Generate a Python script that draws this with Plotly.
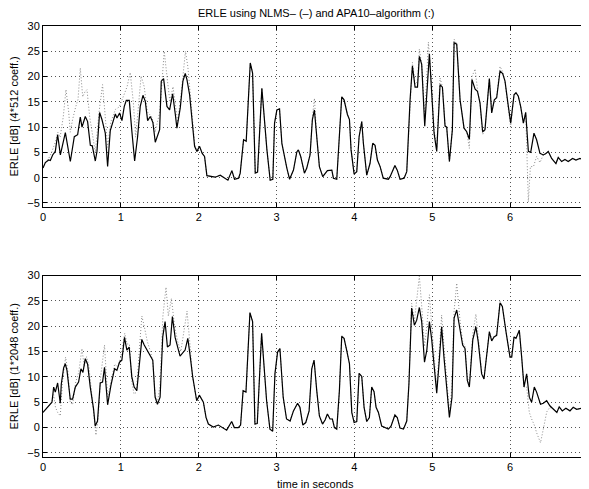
import plotly.graph_objects as go

# ---------------- data ----------------
# upper panel, NLMS (solid)
t_up_nlms = [0.000,0.030,0.073,0.094,0.124,0.158,0.188,0.223,0.287,0.351,0.402,0.445,0.479,0.501,0.543,0.573,0.608,0.633,0.672,0.693,
             0.727,0.757,0.800,0.830,0.864,0.929,0.950,0.984,1.014,1.044,1.070,1.108,1.142,1.177,1.215,1.249,1.284,1.314,1.344,1.378,
             1.412,1.442,1.498,1.519,1.549,1.592,1.626,1.665,1.699,1.720,1.763,1.797,1.827,1.849,1.883,1.913,1.947,1.977,2.011,2.045,
             2.075,2.105,2.157,2.212,2.276,2.311,2.375,2.426,2.460,2.512,2.533,2.576,2.610,2.662,2.692,2.726,2.756,2.811,2.876,2.918,
             2.952,2.974,3.004,3.038,3.068,3.132,3.167,3.217,3.260,3.280,3.310,3.358,3.388,3.430,3.460,3.486,3.516,3.550,3.593,3.623,
             3.653,3.710,3.730,3.773,3.807,3.837,3.867,3.910,3.936,3.957,3.996,4.030,4.060,4.094,4.115,4.158,4.200,4.235,4.265,4.295,
             4.330,4.370,4.436,4.458,4.520,4.550,4.586,4.638,4.672,4.715,4.745,4.779,4.810,4.834,4.864,4.903,4.963,4.993,5.023,5.057,
             5.100,5.130,5.164,5.185,5.220,5.258,5.280,5.314,5.357,5.408,5.442,5.476,5.510,5.550,5.580,5.613,5.647,5.677,5.733,5.763,
             5.797,5.827,5.870,5.904,5.934,5.977,6.007,6.050,6.075,6.105,6.135,6.170,6.200,6.234,6.264,6.306,6.340,6.383,6.426,6.460,
             6.490,6.533,6.588,6.618,6.661,6.704,6.746,6.802,6.845,6.897,6.918]
v_up_nlms = [1.9,3.0,3.5,3.4,4.5,5.2,8.5,4.5,8.9,3.2,8.1,8.5,12.0,10.0,12.1,11.1,6.4,6.3,3.3,5.2,
             12.9,11.5,8.8,2.2,9.3,12.6,11.8,12.8,11.3,14.1,15.3,15.3,9.1,3.3,8.1,14.1,16.3,15.1,11.3,12.1,
             10.9,7.0,9.5,19.1,19.6,14.1,13.4,16.6,12.6,9.8,13.8,19.1,20.6,19.4,16.4,12.1,6.2,5.2,6.2,4.8,
             4.2,0.4,0.3,0.1,0.5,0.2,-0.5,1.4,-0.3,-0.1,0.9,7.5,7.2,22.7,20.7,0.9,1.1,17.7,5.5,-0.5,
             -0.3,10.8,13.4,13.6,6.8,1.9,-0.3,1.5,5.1,5.5,4.2,0.9,1.9,4.5,11.5,13.4,8.1,2.2,0.2,0.9,
             1.4,1.5,-0.1,-0.3,7.5,16.0,15.4,12.5,11.5,5.5,0.7,1.2,8.1,11.1,6.8,0.5,2.8,6.8,6.4,3.5,
             2.2,-0.1,-0.3,0.2,2.4,1.5,-0.3,-0.1,1.2,15.5,22.1,17.9,17.9,24.0,22.4,10.2,24.5,17.4,8.8,5.2,
             18.4,17.9,10.2,10.0,3.2,9.5,26.7,26.4,15.4,9.8,9.1,7.6,19.4,17.5,17.1,14.8,9.1,9.5,19.6,12.8,
             15.4,15.8,21.1,20.6,19.1,14.1,10.8,16.4,16.8,16.1,14.1,10.8,12.9,5.2,5.0,8.8,7.5,4.8,4.5,4.8,
             5.2,3.8,2.8,4.0,3.2,3.6,3.2,3.8,3.5,3.8,3.7]

# upper panel, APA10 (dotted)
t_up_apa = [0.000,0.030,0.073,0.110,0.158,0.190,0.220,0.260,0.295,0.330,0.350,0.380,0.420,0.450,0.479,0.510,0.540,0.565,0.600,0.640,
            0.672,0.720,0.765,0.800,0.830,0.870,0.930,0.980,1.030,1.080,1.120,1.160,1.190,1.230,1.260,1.300,1.340,1.400,1.440,1.500,
            1.530,1.557,1.600,1.630,1.670,1.700,1.730,1.770,1.800,1.830,1.860,1.890,1.920,1.950,1.980,2.011,2.045,2.075,2.105,2.157,
            2.212,2.276,2.311,2.375,2.426,2.460,2.512,2.533,2.576,2.610,2.662,2.692,2.726,2.756,2.811,2.876,2.918,2.952,2.974,3.004,
            3.038,3.068,3.132,3.167,3.217,3.260,3.280,3.310,3.358,3.388,3.430,3.460,3.486,3.516,3.550,3.593,3.623,3.653,3.710,3.730,
            3.773,3.807,3.837,3.867,3.910,3.936,3.957,3.996,4.030,4.060,4.094,4.115,4.158,4.200,4.235,4.265,4.295,4.330,4.370,4.436,
            4.458,4.520,4.550,4.586,4.638,4.672,4.715,4.745,4.779,4.810,4.834,4.864,4.903,4.950,4.993,5.023,5.057,5.100,5.130,5.164,
            5.185,5.220,5.258,5.280,5.314,5.357,5.408,5.442,5.476,5.510,5.550,5.580,5.613,5.647,5.677,5.733,5.763,5.797,5.827,5.870,
            5.904,5.934,5.977,6.007,6.050,6.075,6.105,6.135,6.170,6.200,6.234,6.260,6.300,6.340,6.383,6.426,6.460,6.490,6.533,6.588,
            6.618,6.661,6.704,6.746,6.802,6.845,6.897,6.918]
v_up_apa = [1.9,3.0,3.8,5.0,7.0,9.0,8.0,12.0,17.4,13.0,9.0,11.5,14.0,15.5,21.7,16.0,17.0,17.4,12.0,8.0,
            5.0,13.0,18.4,12.0,6.0,11.0,13.5,14.0,16.0,18.0,20.8,15.0,8.0,15.0,20.1,18.0,13.0,12.0,9.0,13.0,
            20.0,25.0,19.0,15.0,18.0,14.0,11.0,16.0,21.0,25.0,22.0,17.0,12.0,6.5,5.2,6.2,4.8,4.2,0.4,0.3,
            0.1,0.5,0.2,-0.5,1.4,-0.3,-0.1,0.9,7.5,7.2,22.7,20.7,0.9,1.1,17.7,5.5,-0.5,-0.3,10.8,13.4,
            13.6,6.8,1.9,-0.3,1.5,5.1,5.5,4.2,0.9,1.9,4.5,12.0,15.7,8.1,2.2,0.2,0.9,1.4,1.5,-0.1,
            -0.3,7.5,16.0,15.4,12.5,11.5,5.5,0.7,1.2,8.1,11.1,6.8,0.5,2.8,6.8,6.4,3.5,2.2,-0.1,-0.3,
            0.2,2.4,1.5,-0.3,-0.1,1.2,15.5,22.8,18.5,19.0,25.4,22.4,12.0,26.8,18.0,9.5,5.8,19.7,18.0,10.5,
            10.0,3.2,9.5,27.4,26.4,15.4,9.8,9.1,5.8,20.0,21.5,17.5,14.5,8.5,9.5,19.6,13.0,15.4,16.0,22.0,
            21.0,19.1,13.5,10.0,16.4,16.8,16.1,14.1,10.8,12.9,-4.8,2.2,2.2,4.2,3.0,4.5,4.8,5.2,3.8,2.8,
            4.0,3.2,3.6,3.2,3.8,3.5,3.8,3.7]

# lower panel, NLMS (solid)
t_lo_nlms = [0.000,0.094,0.115,0.137,0.158,0.188,0.222,0.235,0.265,0.286,0.308,0.350,0.380,0.415,0.457,0.487,0.513,0.543,0.573,0.607,
             0.650,0.671,0.700,0.735,0.765,0.790,0.830,0.872,0.919,0.949,0.983,1.013,1.047,1.077,1.107,1.141,1.171,1.205,1.239,1.269,
             1.300,1.333,1.376,1.410,1.440,1.470,1.504,1.538,1.568,1.598,1.632,1.662,1.697,1.760,1.825,1.860,1.889,1.923,1.974,2.008,
             2.060,2.094,2.124,2.188,2.252,2.308,2.359,2.423,2.457,2.508,2.538,2.570,2.607,2.658,2.692,2.722,2.752,2.808,2.872,2.915,
             2.950,2.979,3.013,3.043,3.085,3.128,3.174,3.217,3.270,3.300,3.337,3.375,3.418,3.452,3.482,3.516,3.550,3.590,3.623,3.653,
             3.687,3.717,3.743,3.773,3.807,3.837,3.867,3.900,3.936,3.966,3.996,4.030,4.060,4.094,4.124,4.158,4.192,4.222,4.252,4.278,
             4.308,4.350,4.436,4.470,4.520,4.550,4.586,4.630,4.672,4.700,4.735,4.770,4.800,4.834,4.864,4.900,4.930,4.963,4.993,5.023,
             5.057,5.090,5.120,5.150,5.185,5.220,5.253,5.280,5.314,5.357,5.390,5.420,5.450,5.476,5.520,5.560,5.590,5.634,5.664,5.733,
             5.763,5.793,5.827,5.870,5.900,5.947,5.998,6.020,6.050,6.075,6.118,6.148,6.178,6.212,6.246,6.276,6.310,6.340,6.390,6.426,
             6.469,6.510,6.560,6.600,6.630,6.670,6.716,6.768,6.810,6.854,6.918]
v_lo_nlms = [3.0,4.6,5.0,8.0,7.0,8.8,4.8,8.6,11.8,12.6,11.3,5.6,5.6,8.0,9.0,11.6,10.9,13.6,12.5,8.0,
             3.6,0.3,1.3,8.8,9.0,11.9,4.5,8.3,11.6,11.3,12.9,13.3,17.8,15.3,15.9,10.0,8.0,7.3,12.3,17.4,
             16.3,15.4,14.1,13.3,6.0,4.6,6.0,17.9,20.9,15.9,16.3,21.9,17.8,14.1,15.3,17.6,14.3,10.0,5.3,6.4,
             5.0,2.0,0.7,0.1,0.5,0.0,-0.5,1.2,0.0,0.0,0.5,7.3,7.0,22.7,20.9,0.7,0.8,18.6,5.3,-0.3,
             -0.7,10.6,14.9,15.6,6.0,1.7,1.3,3.3,4.8,4.0,0.5,1.0,3.3,11.6,13.3,7.3,2.3,0.7,1.5,2.7,
             1.7,1.7,0.0,-0.3,7.3,18.0,17.6,15.3,12.6,3.0,1.0,1.2,10.7,10.1,4.0,1.2,2.0,8.0,7.1,4.0,
             3.0,0.3,-0.3,0.3,2.5,2.0,-0.1,-0.3,1.3,8.6,23.6,20.2,21.2,23.7,20.9,12.9,15.3,20.9,17.3,12.3,
             6.8,13.3,19.9,13.9,7.3,2.0,6.0,21.6,23.2,19.2,16.3,15.6,9.3,8.0,17.3,19.9,16.9,10.6,9.6,18.9,
             17.1,17.9,18.2,24.6,23.9,18.9,13.9,13.9,17.9,17.6,19.2,13.9,8.0,10.6,6.0,5.0,8.0,7.0,4.6,4.8,
             5.3,4.3,3.6,3.0,4.1,3.3,3.8,3.3,4.0,3.6,3.8]

# lower panel, APA10 (dotted)
t_lo_apa = [0.000,0.094,0.115,0.137,0.160,0.188,0.222,0.250,0.290,0.320,0.350,0.380,0.420,0.460,0.500,0.530,0.560,0.590,0.620,0.650,
            0.680,0.710,0.740,0.790,0.830,0.872,0.920,0.960,1.000,1.050,1.080,1.110,1.140,1.170,1.200,1.240,1.270,1.300,1.340,1.380,
            1.410,1.440,1.470,1.500,1.540,1.580,1.610,1.650,1.690,1.730,1.770,1.820,1.850,1.890,1.920,1.974,2.008,2.060,2.094,2.124,
            2.188,2.252,2.308,2.359,2.423,2.457,2.508,2.538,2.570,2.607,2.658,2.692,2.722,2.752,2.808,2.872,2.915,2.950,2.979,3.013,
            3.043,3.085,3.128,3.174,3.217,3.270,3.300,3.337,3.375,3.418,3.452,3.482,3.516,3.550,3.590,3.623,3.653,3.687,3.717,3.743,
            3.773,3.807,3.837,3.867,3.900,3.936,3.966,3.996,4.030,4.060,4.094,4.124,4.158,4.192,4.222,4.252,4.278,4.308,4.350,4.436,
            4.470,4.520,4.550,4.586,4.630,4.672,4.700,4.735,4.770,4.800,4.834,4.864,4.900,4.930,4.963,4.993,5.023,5.057,5.090,5.120,
            5.150,5.185,5.220,5.253,5.280,5.314,5.357,5.390,5.420,5.450,5.476,5.520,5.560,5.590,5.634,5.664,5.733,5.763,5.793,5.827,
            5.870,5.900,5.947,5.998,6.020,6.050,6.075,6.118,6.148,6.178,6.212,6.246,6.276,6.310,6.340,6.390,6.430,6.470,6.510,6.560,
            6.600,6.630,6.670,6.716,6.768,6.810,6.854,6.918]
v_lo_apa = [3.0,4.6,5.0,6.5,4.0,3.0,2.3,9.0,13.9,11.0,5.0,4.5,9.0,11.0,15.6,12.0,14.0,12.0,7.0,2.0,
            -1.5,2.0,10.0,16.3,6.0,9.0,12.5,12.0,14.0,18.6,16.5,16.5,9.0,6.6,7.0,16.0,22.0,20.0,17.0,15.0,
            13.0,6.5,5.0,8.0,22.0,27.7,22.0,25.5,20.0,17.0,15.0,20.0,23.0,16.0,10.0,5.3,6.4,5.0,2.0,0.7,
            0.1,0.5,0.0,-0.5,1.2,0.0,0.0,0.5,7.3,7.0,22.7,20.9,0.7,0.8,18.6,5.3,-0.3,-0.7,10.6,14.9,
            15.6,6.0,1.7,1.3,3.3,4.8,4.0,0.5,1.0,3.3,11.6,13.3,7.3,2.3,0.7,1.5,2.7,1.7,1.7,0.0,
            -0.3,7.3,18.3,17.6,15.3,12.6,3.0,1.0,1.2,10.7,10.1,4.0,1.2,2.0,8.0,7.1,4.0,3.0,0.3,-0.3,
            0.3,2.5,2.0,-0.1,-0.3,1.3,9.0,24.5,21.0,25.0,29.9,24.0,16.0,20.0,26.2,20.0,14.0,8.0,15.0,22.2,
            16.0,9.0,3.0,8.0,23.0,28.5,21.0,17.0,16.0,10.0,8.5,18.5,22.4,18.0,11.0,9.6,19.0,17.5,18.0,18.5,
            24.9,24.0,18.9,13.9,13.9,17.9,17.6,19.2,13.9,8.0,8.0,3.0,1.7,0.5,-1.0,-3.0,0.0,3.1,4.0,3.6,
            3.0,4.1,3.3,3.8,3.3,4.0,3.6,3.8]

x_ticks = [0, 1, 2, 3, 4, 5, 6, 7]
y_ticks = [-5, 0, 5, 10, 15, 20, 25, 30]

title_text = "ERLE using NLMS\u2013 (\u2013) and APA10\u2013algorithm (:)"
ylabel_up = "ERLE [dB] (4*512 coeff.)"
ylabel_lo = "ERLE [dB] (1*2048 coeff.)"
xlabel = "time in seconds"

# ---------------- figure ----------------
# The page body keeps the browser's 8px default margin, so the figure is
# 8px smaller than the window and its margins are shifted accordingly.
FONT = "Liberation Sans, Arial, Helvetica, sans-serif"
dotted = dict(color="#8a8a8a", width=1, dash="1px,2px")
solid = dict(color="black", width=1.2)

fig = go.Figure()
fig.add_trace(go.Scatter(x=t_up_apa, y=v_up_apa, mode="lines", line=dotted, xaxis="x", yaxis="y"))
fig.add_trace(go.Scatter(x=t_up_nlms, y=v_up_nlms, mode="lines", line=solid, xaxis="x", yaxis="y"))
fig.add_trace(go.Scatter(x=t_lo_apa, y=v_lo_apa, mode="lines", line=dotted, xaxis="x2", yaxis="y2"))
fig.add_trace(go.Scatter(x=t_lo_nlms, y=v_lo_nlms, mode="lines", line=solid, xaxis="x2", yaxis="y2"))

axis_common = dict(
    showline=True, linecolor="black", linewidth=1, mirror="allticks",
    ticks="inside", ticklen=4, tickcolor="black", tickwidth=1,
    showgrid=True, gridcolor="#555", griddash="1px,3px", gridwidth=1,
    zeroline=False, automargin=False, ticklabeloverflow="allow",
    tickfont=dict(family=FONT, size=11, color="black"),
)

fig.update_layout(
    width=581, height=481,
    margin=dict(l=35, r=1, t=18, b=32, autoexpand=False),
    paper_bgcolor="white", plot_bgcolor="white",
    showlegend=False,
    font=dict(family=FONT, size=11, color="black"),
    xaxis=dict(axis_common, domain=[0, 1], range=[0, 7], tickvals=x_ticks, anchor="y"),
    yaxis=dict(axis_common, domain=[0.58, 1], range=[-5.8, 30], tickvals=y_ticks, anchor="x"),
    xaxis2=dict(axis_common, domain=[0, 1], range=[0, 7], tickvals=x_ticks, anchor="y2"),
    yaxis2=dict(axis_common, domain=[0, 0.421], range=[-5.8, 30], tickvals=y_ticks, anchor="x2"),
    annotations=[
        dict(text=title_text, xref="paper", yref="paper", x=0.5, y=1, yshift=5,
             xanchor="center", yanchor="bottom", showarrow=False, font=dict(size=11)),
        dict(text=ylabel_up, xref="paper", yref="paper", x=0, xshift=-29, y=0.79,
             textangle=-90, xanchor="center", yanchor="middle", showarrow=False, font=dict(size=11)),
        dict(text=ylabel_lo, xref="paper", yref="paper", x=0, xshift=-29, y=0.21,
             textangle=-90, xanchor="center", yanchor="middle", showarrow=False, font=dict(size=11)),
        dict(text=xlabel, xref="paper", yref="paper", x=0.5, y=0, yshift=-19,
             xanchor="center", yanchor="top", showarrow=False, font=dict(size=11)),
    ],
)

fig.write_html("out.html")
